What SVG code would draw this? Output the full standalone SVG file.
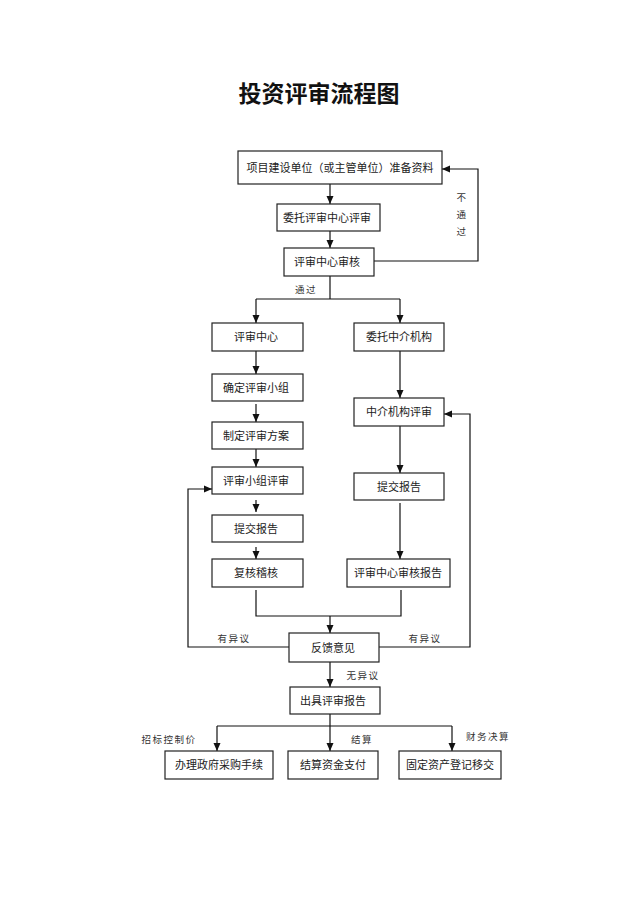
<svg xmlns="http://www.w3.org/2000/svg" width="640" height="906" viewBox="0 0 640 906">
<style>
.box{fill:#fff;stroke:#222;stroke-width:1.2}
.t{font-family:"Noto Sans CJK SC","Liberation Serif",serif;font-size:11px;fill:#222;text-anchor:middle}
.lb{font-family:"Noto Sans CJK SC","Liberation Serif",serif;font-size:9.5px;fill:#333;text-anchor:middle;letter-spacing:1.5px}
.ln{fill:none;stroke:#111;stroke-width:1.2}
.title{font-family:"Noto Sans CJK SC","Liberation Sans",sans-serif;font-size:23px;font-weight:bold;fill:#111;text-anchor:middle}
</style>
<defs>
<marker id="ar" markerUnits="userSpaceOnUse" markerWidth="8" markerHeight="8" viewBox="0 0 8 8" refX="8" refY="4" orient="auto">
<path d="M0,0.5 L8,4 L0,7.5 Z" fill="#111"/>
</marker>
</defs>
<rect width="640" height="906" fill="#fff"/>
<text class="title" x="319" y="102">投资评审流程图</text>

<g id="connectors">
<path class="ln" d="M330,184 V204" marker-end="url(#ar)"/>
<path class="ln" d="M330,231 V248" marker-end="url(#ar)"/>
<path class="ln" d="M374,261 H478 V169 H442" marker-end="url(#ar)"/>
<path class="ln" d="M330,276 V299"/>
<path class="ln" d="M256,299 H400"/>
<path class="ln" d="M256,299 V323" marker-end="url(#ar)"/>
<path class="ln" d="M400,299 V323" marker-end="url(#ar)"/>
<path class="ln" d="M256,351 V374" marker-end="url(#ar)"/>
<path class="ln" d="M256,404 V422" marker-end="url(#ar)"/>
<path class="ln" d="M256,449 V467" marker-end="url(#ar)"/>
<path class="ln" d="M256,500 V512" marker-end="url(#ar)"/>
<path class="ln" d="M256,547 V559" marker-end="url(#ar)"/>
<path class="ln" d="M400,351 V398" marker-end="url(#ar)"/>
<path class="ln" d="M400,426 V473" marker-end="url(#ar)"/>
<path class="ln" d="M400,503 V559" marker-end="url(#ar)"/>
<path class="ln" d="M256,590 V616 H401 V590"/>
<path class="ln" d="M330,616 V633" marker-end="url(#ar)"/>
<path class="ln" d="M289,647 H188 V489 H212" marker-end="url(#ar)"/>
<path class="ln" d="M379,647 H470 V414 H444" marker-end="url(#ar)"/>
<path class="ln" d="M330,662 V687" marker-end="url(#ar)"/>
<path class="ln" d="M330,714 V726"/>
<path class="ln" d="M217,726 H452"/>
<path class="ln" d="M217,726 V751" marker-end="url(#ar)"/>
<path class="ln" d="M330,726 V751" marker-end="url(#ar)"/>
<path class="ln" d="M452,726 V751" marker-end="url(#ar)"/>
<text class="lb" x="462" y="201">不</text>
<text class="lb" x="462" y="218">通</text>
<text class="lb" x="462" y="235">过</text>
<text class="lb" x="306" y="293">通过</text>
<text class="lb" x="234" y="642">有异议</text>
<text class="lb" x="425" y="642">有异议</text>
<text class="lb" x="363" y="679">无异议</text>
<text class="lb" x="169" y="743">招标控制价</text>
<text class="lb" x="362" y="743">结算</text>
<text class="lb" x="488" y="740">财务决算</text>
</g>

<g id="n1"><rect class="box" x="238" y="151" width="204" height="33"/><text class="t" x="340" y="171.5">项目建设单位（或主管单位）准备资料</text></g>
<g id="n2"><rect class="box" x="277" y="204" width="103" height="27"/><text class="t" x="327" y="221.5">委托评审中心评审</text></g>
<g id="n3"><rect class="box" x="284" y="248" width="90" height="28"/><text class="t" x="327" y="266">评审中心审核</text></g>
<g id="n4"><rect class="box" x="212" y="323" width="91" height="28"/><text class="t" x="256" y="341">评审中心</text></g>
<g id="n5"><rect class="box" x="354" y="323" width="90" height="28"/><text class="t" x="399" y="341">委托中介机构</text></g>
<g id="n6"><rect class="box" x="212" y="374" width="91" height="27"/><text class="t" x="256" y="391.5">确定评审小组</text></g>
<g id="n7"><rect class="box" x="212" y="422" width="91" height="27"/><text class="t" x="256" y="439.5">制定评审方案</text></g>
<g id="n8"><rect class="box" x="354" y="398" width="90" height="28"/><text class="t" x="399" y="416">中介机构评审</text></g>
<g id="n9"><rect class="box" x="212" y="467" width="91" height="27"/><text class="t" x="256" y="484.5">评审小组评审</text></g>
<g id="n10"><rect class="box" x="354" y="473" width="90" height="27"/><text class="t" x="399" y="490.5">提交报告</text></g>
<g id="n11"><rect class="box" x="212" y="515" width="91" height="27"/><text class="t" x="256" y="532.5">提交报告</text></g>
<g id="n12"><rect class="box" x="212" y="559" width="91" height="28"/><text class="t" x="256" y="577">复核稽核</text></g>
<g id="n13"><rect class="box" x="347" y="559" width="103" height="28"/><text class="t" x="398" y="577">评审中心审核报告</text></g>
<g id="n14"><rect class="box" x="289" y="633" width="90" height="29"/><text class="t" x="333" y="651.5">反馈意见</text></g>
<g id="n15"><rect class="box" x="290" y="687" width="90" height="27"/><text class="t" x="333" y="704.5">出具评审报告</text></g>
<g id="n16"><rect class="box" x="165" y="751" width="108" height="28"/><text class="t" x="219" y="769">办理政府采购手续</text></g>
<g id="n17"><rect class="box" x="288" y="751" width="90" height="28"/><text class="t" x="333" y="769">结算资金支付</text></g>
<g id="n18"><rect class="box" x="399" y="751" width="102" height="28"/><text class="t" x="450" y="769">固定资产登记移交</text></g>
</svg>
